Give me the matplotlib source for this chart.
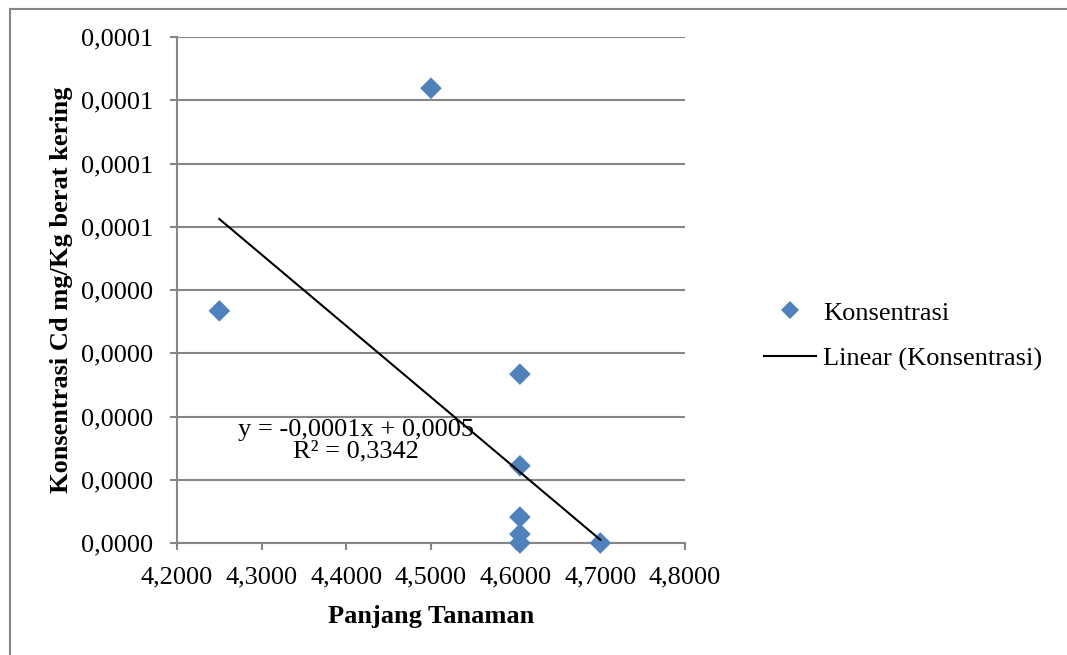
import matplotlib
matplotlib.use("Agg")
import matplotlib.pyplot as plt
from matplotlib.lines import Line2D
from matplotlib.ticker import FixedLocator, FuncFormatter
from decimal import Decimal, ROUND_HALF_UP

# ---- data ----
panjang = [4.25, 4.50, 4.605, 4.605, 4.605, 4.605, 4.605, 4.70]
konsentrasi = [3.67e-5, 7.19e-5, 2.67e-5, 1.22e-5, 0.41e-5, 0.14e-5, 0.0, 0.0]
trend_slope = -11.27e-5
trend_intercept = 53.02e-5
trend_x = [4.25, 4.70]
x_ticks = [4.2, 4.3, 4.4, 4.5, 4.6, 4.7, 4.8]
y_ticks = [i * 1e-5 for i in range(9)]
equation_text = "y = -0,0001x + 0,0005\nR² = 0,3342"

plt.rcParams['font.family'] = ['Liberation Serif', 'DejaVu Serif']

W, H = 1067, 655
FS = 19
fig = plt.figure(figsize=(W / 100, H / 100), dpi=100)
ax = fig.add_axes([177 / W, 1 - 543 / H, (685 - 177) / W, (543 - 37) / H])

grid_c = '#868686'
blue = '#4F81BD'

ax.scatter(panjang, konsentrasi, marker='D', s=11 ** 2, color=blue,
           edgecolors='none', zorder=3, clip_on=False)
ty = [trend_slope * x + trend_intercept for x in trend_x]
ax.plot(trend_x, ty, color='black', lw=1.5, zorder=4)

ax.set_xlim(4.2, 4.8)
ax.set_ylim(0, 8e-5)
ax.xaxis.set_major_locator(FixedLocator(x_ticks))
ax.yaxis.set_major_locator(FixedLocator(y_ticks))


def fmt4(v, pos=None):
    d = Decimal(str(round(float(v), 12))).quantize(Decimal('0.0001'), rounding=ROUND_HALF_UP)
    return str(d).replace('.', ',')


ax.xaxis.set_major_formatter(FuncFormatter(fmt4))
ax.yaxis.set_major_formatter(FuncFormatter(fmt4))

ax.grid(axis='y', color=grid_c, lw=1.5)
ax.set_axisbelow(True)
for s in ['top', 'right']:
    ax.spines[s].set_visible(False)
for s in ['left', 'bottom']:
    ax.spines[s].set_color(grid_c)
    ax.spines[s].set_linewidth(1.5)
ax.tick_params(axis='both', direction='out', length=5, width=1.5, color=grid_c,
               labelsize=FS, labelcolor='black')
ax.tick_params(axis='y', pad=12)
ax.tick_params(axis='x', pad=12)

ax.set_xlabel('Panjang Tanaman', fontsize=FS, fontweight='bold', labelpad=12)
ax.set_ylabel('Konsentrasi Cd mg/Kg berat kering', fontsize=FS, fontweight='bold',
              labelpad=6)

ax.text(4.4114, 1.62e-5, equation_text, ha='center', va='center', fontsize=FS,
        linespacing=0.95, zorder=5)

handles = [
    Line2D([], [], marker='D', color=blue, ls='none', markersize=9, markeredgewidth=0),
    Line2D([], [], color='black', lw=1.5),
]
leg = fig.legend(handles, ['Konsentrasi', 'Linear (Konsentrasi)'],
                 loc='center left', bbox_to_anchor=(740 / W, 1 - 336 / H),
                 frameon=False, fontsize=FS, handlelength=1.97, handletextpad=0.27,
                 labelspacing=0.85)

# outer border (left and top visible)
fig.add_artist(Line2D([9.5 / W, 9.5 / W], [0, 1 - 8.5 / H], transform=fig.transFigure,
                      color=grid_c, lw=1.5))
fig.add_artist(Line2D([9.5 / W, 1], [1 - 8.5 / H, 1 - 8.5 / H], transform=fig.transFigure,
                      color=grid_c, lw=1.5))

fig.savefig('out.png', dpi=100)
